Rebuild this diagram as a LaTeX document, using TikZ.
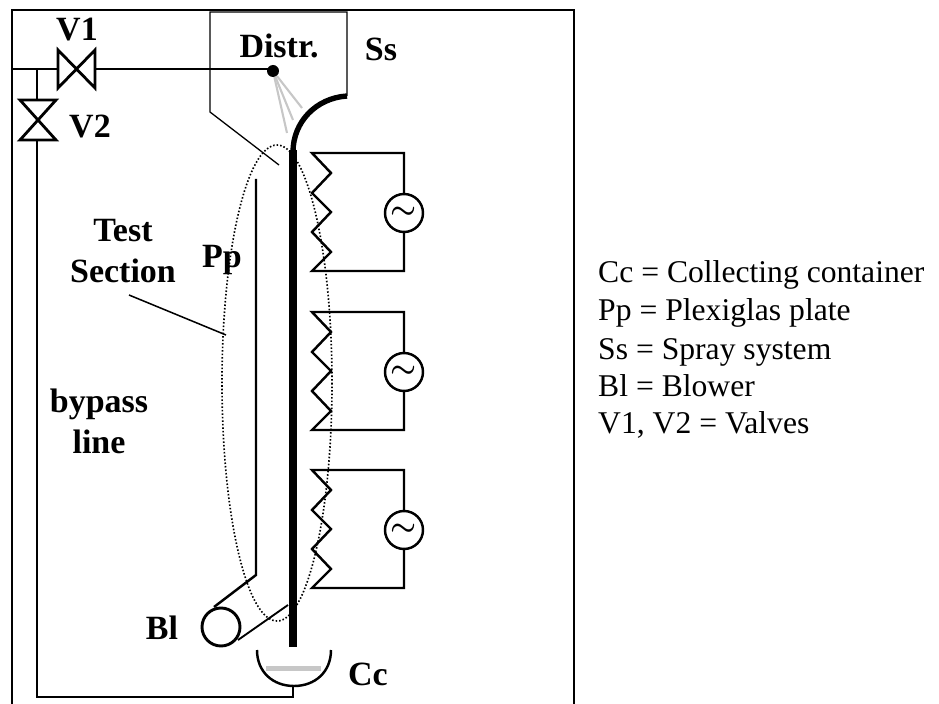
\documentclass[tikz,border=0pt]{standalone}
\usepackage{fontspec}
\setmainfont{Liberation Serif}
\tikzset{
  lbl/.style={font=\fontsize{29}{32}\selectfont\bfseries, inner sep=0pt, anchor=base},
  legend/.style={font=\fontsize{27}{30}\selectfont, inner sep=0pt, anchor=base west},
  pipe/.style={line width=2.4pt},
  wire/.style={line width=2.1pt},
  source/.style={circle, draw, line width=2.1pt, minimum size=1.14cm, inner sep=0pt, font=\fontsize{48}{48}\selectfont\boldmath}
}
\begin{document}
\begin{tikzpicture}[x=0.03cm,y=-0.03cm]
\useasboundingbox (0,0) rectangle (939,704);

% outer box
\draw [line width=2.2pt] (12,704) -- (12,10) -- (574,10) -- (574,704);

% distributor housing
\draw [line width=1.1pt] (347,96) -- (347,12) -- (210,12) -- (210,112) -- (279,165);

% supply line, valves
\node (dist) at (273,71) [circle, fill=black, minimum size=0.36cm, inner sep=0pt] {};
\coordinate (supply) at (12,69);
\coordinate (tee) at (37,69);
\coordinate (vOneL) at (58,69);
\coordinate (vOneR) at (95,69);
\coordinate (distIn) at (270,69);
\coordinate (vTwoT) at (37,100);
\coordinate (vTwoB) at (37,140);
\coordinate (corner) at (37,697);
\coordinate (drain) at (293,697);
\coordinate (cupBottom) at (293,686);
\draw [pipe] (supply) -- (vOneL);
\draw [pipe] (vOneR) -- (distIn);
\draw [wire] (tee) -- (vTwoT);
\draw [wire] (vTwoB) -- (corner) -- (drain) -- (cupBottom);
\draw [line width=2.4pt] (58,50) -- (95,88) -- (95,50) -- (58,88) -- cycle;
\draw [line width=2.4pt] (20,100) -- (56,100) -- (20,140) -- (56,140) -- cycle;

% spray
\foreach \x/\y in {287/133, 293/120, 302/108}
  \draw [line width=1.8pt, black!22] (dist) -- (\x,\y);

% test section
\draw [dash pattern=on 1.3pt off 1.7pt, line width=1.4pt] (277,383) ellipse [x radius=55, y radius=238];

% plate
\draw [line width=4.6pt] (347,96) .. controls (316,98) and (293,122) .. (293,152);
\draw [line width=6pt] (293,150) -- (293,647);

% heaters
\foreach \t in {153,312,470}
{
\draw [wire] (312,\t) -- (331,\t+20) -- (312,\t+40) -- (331,\t+59) -- (312,\t+79) -- (331,\t+99) -- (312,\t+118) -- (404,\t+118) -- (404,\t) -- cycle;
\node [source, fill=white] at (404,\t+60) {$\sim$};
}

% plexiglas plate, blower
\draw [wire] (256,179) -- (256,575) -- (214,607);
\draw [line width=1.6pt] (238,640) -- (288,605);
\node (blower) at (221,627) [circle, draw, line width=2.5pt, minimum size=1.14cm, inner sep=0pt] {};

% container
\draw [wire] (257,650) .. controls (257,672) and (273,686) .. (294,686) .. controls (315,686) and (331,672) .. (331,650);
\fill [black!22] (266,666) rectangle (321,671);

% leader
\draw [line width=1.3pt] (129,295) -- (226,335);

\node [lbl] at (77,41) {V1};
\node [lbl] at (90,138) {V2};
\node [lbl] at (279,58) {Distr.};
\node [lbl] at (381,61) {Ss};
\node [lbl] at (123,242) {Test};
\node [lbl] at (123,283) {Section};
\node [lbl] at (222,268) {Pp};
\node [lbl] at (99,412) {bypass};
\node [lbl] at (99,453) {line};
\node [lbl] at (162,639) {Bl};
\node [lbl] at (368,685) {Cc};

\node [legend] at (598,283) {Cc = Collecting container};
\node [legend] at (598,321) {Pp = Plexiglas plate};
\node [legend] at (598,359) {Ss = Spray system};
\node [legend] at (598,396) {Bl = Blower};
\node [legend] at (598,433) {V1, V2 = Valves};
\end{tikzpicture}
\end{document}
